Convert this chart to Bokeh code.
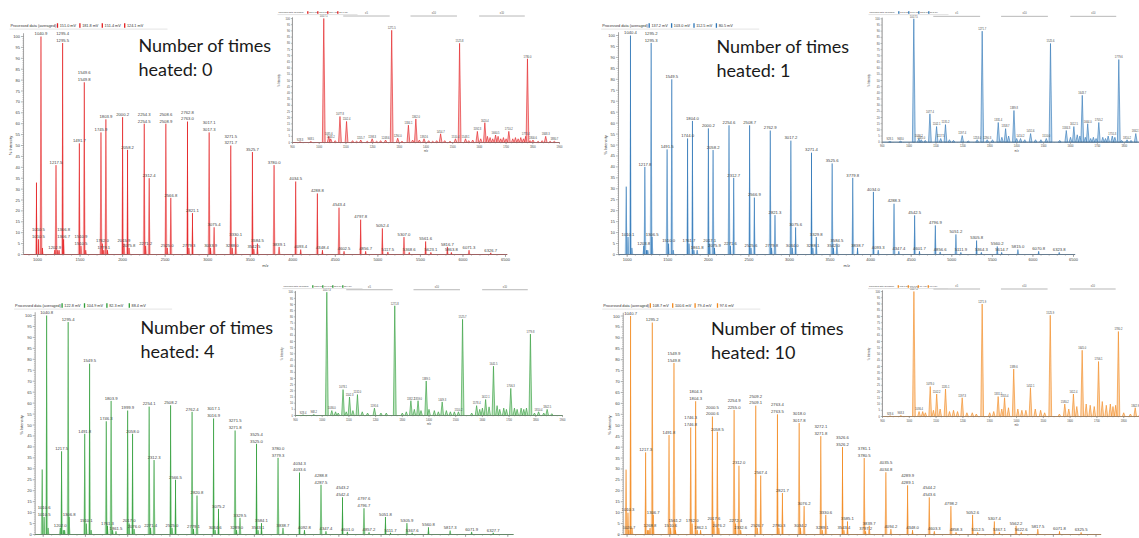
from bokeh.plotting import figure
from bokeh.models import Range1d
from bokeh.core.properties import value
from bokeh.embed import file_html
from bokeh.resources import INLINE

W, H = 1139, 538
SMALL = "Liberation Sans"
BIG = "Lato"

# ---------------- data ----------------
# main spectra: labelled peaks (m/z, % intensity)
tl_mz = [1010.5, 1040.9, 1202.9, 1217.5, 1295.4, 1306.8, 1491.7, 1510.9, 1549.6, 1745.9, 1762.0, 1779.1, 1803.9,
         2000.2, 2015.9, 2058.2, 2075.8, 2254.3, 2271.2, 2312.4, 2508.6, 2525.0, 2566.8, 2762.8, 2779.3, 2821.1,
         3017.1, 3033.9, 3075.4, 3271.5, 3288.0, 3330.1, 3525.7, 3542.5, 3584.5, 3780.0, 3839.1, 4034.5, 4093.4,
         4288.8, 4348.4, 4543.4, 4602.5, 4797.8, 4856.7, 5052.4, 5117.5, 5307.0, 5368.6, 5561.6, 5623.1, 5816.7,
         5863.8, 6071.3, 6326.7]
tl_h = [7, 100, 2, 41, 97, 7, 51, 4, 79, 56, 5, 2, 62, 63, 5, 48, 3, 60, 4, 35, 60, 3, 26, 61, 3, 19, 56, 3, 12.5,
        50, 3, 8, 47, 2.5, 5, 41, 3.5, 33.5, 2.3, 28, 2, 21.5, 1.5, 16, 1.5, 12, 1.2, 8, 1, 6, 1, 3.5, 1, 2, 0.8]
tl_dup_of = [1010.5, 1295.4, 1306.8, 1510.9, 1549.6, 2254.3, 2508.6, 2762.8, 3017.1, 3271.5]
tl_dup = [1010.5, 1295.5, 1306.7, 1510.5, 1549.8, 2254.5, 2508.9, 2763.0, 3017.3, 3271.7]
tl_nl_mz = [988.0, 1058.0, 1238.0, 1254.0, 1567.0, 1822.0]
tl_nl_h = [33, 3, 2, 2, 2, 2]

tr_mz = [1010.1, 1040.4, 1203.8, 1217.8, 1295.2, 1306.5, 1491.5, 1510.0, 1549.5, 1744.0, 1761.7, 1804.0, 1861.8,
         2000.2, 2017.1, 2058.2, 2075.9, 2254.6, 2271.6, 2312.7, 2508.7, 2525.6, 2566.9, 2762.9, 2779.8, 2821.3,
         3017.2, 3034.0, 3075.6, 3271.4, 3288.1, 3329.8, 3525.6, 3542.0, 3584.5, 3779.8, 3838.7, 4034.0, 4093.3,
         4288.3, 4347.4, 4542.5, 4601.7, 4796.9, 4856.6, 5051.2, 5111.9, 5305.8, 5364.3, 5560.2, 5614.7, 5815.0,
         6070.8, 6323.8]
tr_h = [8, 100, 4, 40, 96.6, 8, 48, 5, 80, 53, 5, 61, 2, 57.6, 5, 47.7, 3, 59, 4, 35, 59, 3, 26, 56.6, 3, 18, 52,
        3, 12.4, 46.5, 3, 8, 41.6, 3, 5, 35, 3, 28.6, 2, 23.2, 1.5, 17.9, 1.5, 13.3, 1.2, 9.2, 1, 6.4, 1, 3.7, 1,
        2.3, 1.5, 1]
tr_dup_of = [1295.2]
tr_dup = [1295.3]
tr_nl_mz = [988.0, 1058.0, 1238.0, 1254.0, 1567.0, 1822.0]
tr_nl_h = [31, 3, 2, 2, 2, 2]

bl_mz = [1010.6, 1040.8, 1202.0, 1217.5, 1295.4, 1306.8, 1491.8, 1510.1, 1549.5, 1746.3, 1761.3, 1803.9, 1861.5,
         1999.9, 2017.0, 2058.0, 2076.0, 2254.1, 2271.4, 2312.3, 2508.2, 2525.0, 2566.5, 2762.4, 2779.1, 2820.8,
         3017.1, 3034.6, 3075.2, 3271.5, 3289.0, 3329.5, 3525.4, 3543.1, 3584.1, 3780.0, 3838.7, 4034.3, 4092.8,
         4288.8, 4347.4, 4543.2, 4601.0, 4797.6, 4857.2, 5051.8, 5111.7, 5305.9, 5367.6, 5560.8, 5817.3, 6071.9,
         6327.7]
bl_h = [8, 100, 3, 38, 97, 8, 46, 5, 78, 51.7, 4, 61, 1.5, 56.6, 5, 46, 2.5, 58.4, 3, 34, 59, 3, 25, 56, 2.5,
        17.8, 53, 2, 11.7, 47.5, 2, 7.6, 41.4, 2, 5.2, 35, 3, 28.3, 2, 22.7, 1.5, 17, 1.2, 12, 1, 8, 0.8, 5.2, 0.8,
        3.3, 1.8, 1.2, 0.8]
bl_dup_of = [1010.6, 3017.1, 3271.5, 3525.4, 3780.0, 4034.3, 4288.8, 4543.2, 4797.6]
bl_dup = [1010.5, 3016.9, 3271.8, 3525.0, 3779.3, 4033.6, 4287.5, 4542.4, 4796.7]
bl_nl_mz = [988.0, 1058.0, 1238.0, 1254.0, 1567.0, 1822.0]
bl_nl_h = [29.7, 3, 2, 2, 2, 2]

br_mz = [1010.3, 1020.7, 1040.7, 1217.3, 1268.8, 1295.2, 1306.7, 1491.8, 1510.6, 1549.9, 1561.2, 1746.3, 1762.0,
         1804.3, 1862.1, 2000.5, 2017.6, 2058.5, 2076.2, 2254.9, 2272.4, 2312.0, 2332.6, 2509.2, 2526.7, 2567.4,
         2763.4, 2780.3, 2821.7, 3018.0, 3034.2, 3076.2, 3272.1, 3289.1, 3330.6, 3526.6, 3543.4, 3585.1, 3781.1,
         3797.2, 3839.7, 4035.5, 4094.2, 4289.9, 4348.0, 4544.2, 4603.3, 4798.2, 4858.3, 5052.6, 5112.5, 5307.4,
         5367.1, 5562.2, 5622.6, 5817.5, 6071.8, 6325.5]
br_h = [10, 2, 100, 37.6, 3, 97, 9, 45.5, 3, 78.5, 5, 49, 5, 61, 2, 54, 6, 47, 3, 57, 5, 31.5, 2, 59, 3, 27, 55, 3,
        19, 51, 3, 13, 45, 2, 9, 40, 2, 6, 35, 1.5, 4, 28.5, 2.5, 22.5, 2, 17, 1.5, 13, 1, 9, 1, 6, 1, 4, 1, 2.5,
        1.5, 1]
br_dup_of = [1549.9, 1746.3, 1804.3, 2000.5, 2254.9, 2509.2, 2763.4, 3018.0, 3272.1, 3526.6, 3781.1, 4035.5,
             4289.9, 4544.2]
br_dup = [1549.8, 1746.8, 1804.3, 2000.6, 2255.0, 2509.1, 2763.5, 3017.8, 3271.8, 3526.2, 3780.5, 4034.8,
          4289.1, 4543.6]
br_nl_mz = [988.0, 1058.0, 1238.0, 1254.0, 1567.0, 1822.0]
br_nl_h = [29.7, 3, 2, 2, 2, 2]

# insets: labelled peaks and unlabelled noise
tl_in_mz = [928.3, 968.5, 1017.1, 1035.6, 1043.2, 1077.8, 1102.4, 1155.7, 1198.3, 1248.6, 1271.5, 1294.0, 1334.1,
            1362.0, 1392.6, 1454.7, 1510.4, 1525.8, 1548.1, 1592.3, 1620.4, 1660.5, 1710.2, 1773.4, 1780.0, 1800.6,
            1848.3, 1880.7]
tl_in_h = [0.5, 0.8, 100, 5, 3, 21, 17, 2, 3, 2, 90.5, 3.5, 14, 19, 3, 7, 3, 80, 3, 9, 16, 6, 9, 5, 67.5, 2, 5, 1]
tl_in_nz = [1060, 1125, 1140, 1180, 1215, 1230, 1310, 1350, 1375, 1410, 1425, 1440, 1470, 1490, 1560, 1575, 1605,
            1630, 1640, 1650, 1670, 1680, 1690, 1700, 1725, 1735, 1745, 1755, 1765, 1790, 1820, 1835, 1865]
tl_in_nh = [1.5, 1.5, 1, 1, 1, 1.5, 1, 2, 2, 1.5, 1, 1.5, 1.5, 1, 1.5, 2, 3, 5, 4, 3, 5, 3, 4, 3, 3, 4, 3, 4, 3,
            1.5, 1, 1.5, 1]

tr_in_mz = [928.5, 968.0, 1017.5, 1036.2, 1045.0, 1077.4, 1102.1, 1117.5, 1135.2, 1197.4, 1253.0, 1271.7, 1290.3,
            1331.4, 1358.7, 1389.8, 1414.2, 1451.6, 1510.0, 1525.6, 1584.3, 1612.5, 1643.7, 1664.0, 1705.2, 1755.3,
            1779.6, 1810.2, 1842.7]
tr_in_h = [0.5, 0.8, 100, 3, 2, 23, 12.7, 3, 14.3, 5.4, 2, 90, 2, 16, 11, 25.7, 3, 7, 3, 80, 9.5, 12.7, 38, 15, 16,
           5, 67, 2, 7]
tr_in_nz = [1060, 1150, 1165, 1220, 1310, 1345, 1370, 1400, 1430, 1470, 1490, 1560, 1600, 1625, 1635, 1655, 1675,
            1685, 1695, 1720, 1730, 1740, 1765, 1790, 1825, 1860]
tr_in_nh = [1.5, 2, 1.5, 1, 2, 4, 5, 3, 2, 2, 2, 1.5, 4, 6, 5, 4, 3, 4, 3, 4, 3, 5, 4, 1.5, 1.5, 1]

bl_in_mz = [928.4, 968.2, 1017.3, 1036.0, 1078.1, 1102.3, 1132.0, 1195.6, 1271.8, 1332.2, 1359.0, 1389.5, 1449.3,
            1510.2, 1525.7, 1578.4, 1612.1, 1641.5, 1706.3, 1779.8, 1810.4, 1842.5]
bl_in_h = [0.5, 0.8, 100, 4, 21, 15, 17, 6, 89, 12, 12, 28, 11, 3, 78, 8, 13, 40, 22, 66, 3, 5]
bl_in_nz = [1050, 1060, 1090, 1115, 1150, 1170, 1220, 1240, 1300, 1315, 1345, 1370, 1400, 1420, 1435, 1465, 1480,
            1495, 1560, 1590, 1600, 1625, 1655, 1665, 1680, 1690, 1720, 1730, 1745, 1755, 1765, 1795, 1830, 1860]
bl_in_nh = [3, 2, 3, 4, 3, 2, 2, 2, 2, 3, 5, 4, 5, 4, 3, 4, 3, 3, 2, 5, 6, 7, 8, 5, 6, 5, 6, 5, 6, 5, 6, 2, 2, 1.5]

br_in_mz = [928.6, 968.3, 1017.2, 1036.4, 1078.0, 1102.2, 1135.1, 1197.3, 1271.9, 1331.5, 1355.4, 1389.6, 1452.1,
            1525.9, 1580.2, 1612.4, 1645.0, 1706.1, 1780.2, 1842.9]
br_in_h = [0.5, 0.8, 100, 4, 24, 18, 22, 15, 90, 16, 15, 38, 23, 81, 10, 18, 53, 44, 68, 7]
br_in_nz = [1050, 1060, 1090, 1115, 1150, 1165, 1180, 1215, 1235, 1250, 1300, 1315, 1345, 1370, 1405, 1420, 1435,
            1470, 1490, 1505, 1560, 1595, 1625, 1660, 1675, 1690, 1720, 1735, 1750, 1760, 1770, 1800, 1825, 1860]
br_in_nh = [4, 3, 5, 6, 4, 5, 4, 3, 3, 2, 3, 4, 6, 7, 6, 5, 5, 6, 5, 3, 2, 6, 8, 10, 9, 8, 12, 9, 10, 8, 9, 3, 2,
            1.5]

inset_br_start = [1090, 1342, 1599]
inset_br_end = [1264, 1516, 1770]
inset_br_text = ["x5", "x10", "x10"]

main_xticks = [1000, 1500, 2000, 2500, 3000, 3500, 4000, 4500, 5000, 5500, 6000, 6500]
inset_xticks = [900, 1000, 1100, 1200, 1300, 1400, 1500, 1600, 1700, 1800, 1900]
yticks = list(range(0, 101, 5))

tl_mv = ["151.0 mV", "181.8 mV", "151.4 mV", "124.1 mV"]
tr_mv = ["137.2 mV", "103.0 mV", "112.5 mV", "80.5 mV"]
bl_mv = ["122.8 mV", "104.9 mV", "82.3 mV", "88.4 mV"]
br_mv = ["108.7 mV", "100.6 mV", "79.4 mV", "97.6 mV"]
heated = ["0", "1", "4", "10"]

# ---------------- figure ----------------
p = figure(width=W, height=H, x_range=Range1d(0, W), y_range=Range1d(0, H),
           output_backend="svg", toolbar_location=None,
           x_axis_type=None, y_axis_type=None, min_border=0)
p.outline_line_color = None
p.background_fill_color = "white"
p.border_fill_color = "white"

xr, yr, geo = {}, {}, {}


def setup(nm, xa, pxa, xb, pxb, py0, py100):
    dx = (xb - xa) / (pxb - pxa)
    xs = xa - pxa * dx
    ga, gb = H - py0, H - py100
    dy = 100.0 / (gb - ga)
    ys = -ga * dy
    xr[nm] = Range1d(xs, xs + W * dx)
    yr[nm] = Range1d(ys, ys + H * dy)
    geo[nm] = (dx, dy)


setup("tl", 1000, 37, 6500, 505, 254, 36)
setup("tr", 1000, 626.7, 6500, 1073, 254, 35)
setup("bl", 1000, 42.7, 6500, 507.3, 534, 315)
setup("br", 1000, 626.6, 6500, 1095.5, 534, 315.5)
setup("tli", 900, 292, 1900, 559, 142, 18)
setup("tri", 900, 881.7, 1900, 1150.7, 141.7, 18.3)
setup("bli", 900, 295, 1900, 562, 415, 291.7)
setup("bri", 900, 882, 1900, 1150, 416, 291)
p.extra_x_ranges = xr
p.extra_y_ranges = yr


def ptext(ix, iy, txt, size, color="#333333", align="left", baseline="middle", font=SMALL, angle=0.0):
    p.text(x=[ix], y=[H - iy], text=[txt], text_font=value(font), text_font_size=size,
           text_color=color, text_align=align, text_baseline=baseline, angle=angle)


def axes(nm, xmin, xmax, ytop, xticks, xminor, fs, tl, lab_fs):
    dx, dy = geo[nm]
    kw = dict(x_range_name=nm, y_range_name=nm)
    col = "#808080"
    p.segment(x0=[xmin, xmin], y0=[0, 0], x1=[xmax, xmin], y1=[0, ytop], line_color=col, line_width=0.7, **kw)
    n = len(xticks)
    p.segment(x0=xticks, y0=[0] * n, x1=xticks, y1=[-tl * dy] * n, line_color=col, line_width=0.6, **kw)
    m = len(xminor)
    p.segment(x0=xminor, y0=[0] * m, x1=xminor, y1=[-0.5 * tl * dy] * m, line_color=col, line_width=0.5, **kw)
    p.text(x=xticks, y=[-(tl + 0.8) * dy] * n, text=[str(t) for t in xticks], text_font=value(SMALL),
           text_font_size=fs, text_color="#444444", text_align="center", text_baseline="top", **kw)
    k = len(yticks)
    p.segment(x0=[xmin - tl * dx] * k, y0=yticks, x1=[xmin] * k, y1=yticks, line_color=col, line_width=0.6, **kw)
    ymin = [v for v in range(0, 101) if v % 5]
    p.segment(x0=[xmin - 0.5 * tl * dx] * len(ymin), y0=ymin, x1=[xmin] * len(ymin), y1=ymin,
              line_color=col, line_width=0.4, **kw)
    p.text(x=[xmin - (tl + 1) * dx] * k, y=yticks, text=[str(t) for t in yticks], text_font=value(SMALL),
           text_font_size=fs, text_color="#444444", text_align="right", text_baseline="middle", **kw)
    p.text(x=[(xmin + xmax) / 2], y=[-(tl + 6) * dy], text=["m/z"], text_font=value(SMALL),
           text_font_size=lab_fs, text_color="#444444", text_align="center", text_baseline="top", **kw)
    p.text(x=[xmin - (tl + 11) * dx], y=[50], text=["% Intensity"], text_font=value(SMALL),
           text_font_size=lab_fs, text_color="#444444", text_align="center", text_baseline="middle",
           angle=1.5708, **kw)


def spectrum(nm, mz, h, nmz, nh, hw, line, fill, outline):
    kw = dict(x_range_name=nm, y_range_name=nm)
    am = list(mz) + list(nmz)
    ah = list(h) + list(nh)
    p.patches(xs=[[c - hw, c, c + hw] for c in am], ys=[[0, v, 0] for v in ah], fill_color=fill,
              fill_alpha=0.75, line_color=line if outline else None, line_width=0.6, **kw)
    if not outline:
        p.segment(x0=am, y0=[0] * len(am), x1=am, y1=ah, line_color=line, line_width=0.9, **kw)


def peak_labels(nm, mz, h, dup_of, dup, fs, g1, g2):
    dx, dy = geo[nm]
    kw = dict(x_range_name=nm, y_range_name=nm)
    ly = [v + (g2 if c in dup_of else g1) * dy for c, v in zip(mz, h)]
    p.text(x=mz, y=ly, text=[f"{c:.1f}" for c in mz], text_font=value(SMALL), text_font_size=fs,
           text_color="#444444", text_align="center", text_baseline="bottom", **kw)
    if dup_of:
        dh = [h[mz.index(c)] for c in dup_of]
        p.text(x=dup_of, y=[v + g1 * dy for v in dh], text=[f"{d:.1f}" for d in dup], text_font=value(SMALL),
               text_font_size=fs, text_color="#444444", text_align="center", text_baseline="bottom", **kw)


def header(ix, iy, mvs, color, fs, step, first, bar_h, line_len):
    ptext(ix, iy, "Processed data (averaged)", fs, color="#333333")
    p.segment(x0=[ix - 1], y0=[H - iy - bar_h * 0.8], x1=[ix - 1 + line_len], y1=[H - iy - bar_h * 0.8],
              line_color="#d0d0d0", line_width=0.6)
    for i, mv in enumerate(mvs):
        bx = ix + first + i * step
        p.segment(x0=[bx], y0=[H - iy - bar_h / 2], x1=[bx], y1=[H - iy + bar_h / 2],
                  line_color=color, line_width=1.3)
        ptext(bx + bar_h * 0.5, iy, mv, fs, color="#333333")


def brackets(nm, fs):
    dx, dy = geo[nm]
    kw = dict(x_range_name=nm, y_range_name=nm)
    nb = len(inset_br_start)
    p.segment(x0=inset_br_start, y0=[102] * nb, x1=inset_br_end, y1=[102] * nb, line_color="#9a9a9a",
              line_width=0.7, **kw)
    p.text(x=[(a + b) / 2 for a, b in zip(inset_br_start, inset_br_end)], y=[102 + 1.2 * dy] * nb,
           text=inset_br_text, text_font=value(SMALL), text_font_size=fs, text_color="#555555",
           text_align="center", text_baseline="bottom", **kw)


panels = [
    dict(nm="tl", mz=tl_mz, h=tl_h, do=tl_dup_of, d=tl_dup, nmz=tl_nl_mz, nh=tl_nl_h, xmin=836, xmax=6520,
         line="#e31a1c", fill="#f6a3a3", mv=tl_mv, hx=10, hy=25, tx=138, ty=44,
         inm="tli", imz=tl_in_mz, ih=tl_in_h, inz=tl_in_nz, inh=tl_in_nh, bg=(274, 568, 5, 152), ihx=278, ihy=12),
    dict(nm="tr", mz=tr_mz, h=tr_h, do=tr_dup_of, d=tr_dup, nmz=tr_nl_mz, nh=tr_nl_h, xmin=893, xmax=6520,
         line="#2b74b6", fill="#a7c9e7", mv=tr_mv, hx=601.7, hy=25, tx=716, ty=45,
         inm="tri", imz=tr_in_mz, ih=tr_in_h, inz=tr_in_nz, inh=tr_in_nh, bg=(862, 1139, 5, 152), ihx=869, ihy=12),
    dict(nm="bl", mz=bl_mz, h=bl_h, do=bl_dup_of, d=bl_dup, nmz=bl_nl_mz, nh=bl_nl_h, xmin=905, xmax=6567,
         line="#2b9b36", fill="#a5d9a8", mv=bl_mv, hx=14.6, hy=305, tx=140, ty=326,
         inm="bli", imz=bl_in_mz, ih=bl_in_h, inz=bl_in_nz, inh=bl_in_nh, bg=(278, 568, 281, 426), ihx=283, ihy=286),
    dict(nm="br", mz=br_mz, h=br_h, do=br_dup_of, d=br_dup, nmz=br_nl_mz, nh=br_nl_h, xmin=955, xmax=6560,
         line="#f2871a", fill="#fac794", mv=br_mv, hx=602.8, hy=305, tx=710.5, ty=327,
         inm="bri", imz=br_in_mz, ih=br_in_h, inz=br_in_nz, inh=br_in_nh, bg=(862, 1139, 281, 426), ihx=868.5, ihy=286),
]

for i, P in enumerate(panels):
    nm = P["nm"]
    dx, dy = geo[nm]
    spectrum(nm, P["mz"], P["h"], P["nmz"], P["nh"], 1.6 * dx, P["line"], P["fill"], False)
    p.segment(x0=[P["xmin"]], y0=[0], x1=[P["xmax"]], y1=[0], line_color=P["line"], line_width=1.0,
              x_range_name=nm, y_range_name=nm)
    peak_labels(nm, P["mz"], P["h"], P["do"], P["d"], "4.2px", 1.2, 8.0)
    axes(nm, P["xmin"], P["xmax"], 101.5, main_xticks, list(range(900, 6501, 100)), "4px", 2.5, "4px")
    header(P["hx"], P["hy"], P["mv"], P["line"], "3.8px", 22.4, 47, 4.5, 158)
    ptext(P["tx"], P["ty"], "Number of times", "18px", color="#1a1a1a", baseline="alphabetic", font=BIG)
    ptext(P["tx"], P["ty"] + 24.5, "heated: " + heated[i], "18px", color="#1a1a1a", baseline="alphabetic",
          font=BIG)

    # inset
    bg = P["bg"]
    p.quad(left=[bg[0]], right=[bg[1]], top=[H - bg[2]], bottom=[H - bg[3]],
           fill_color="white", line_color=None)
    im = P["inm"]
    idx, idy = geo[im]
    spectrum(im, P["imz"], P["ih"], P["inz"], P["inh"], 1.4 * idx, P["line"], P["fill"], True)
    p.segment(x0=[900], y0=[0], x1=[1900], y1=[0], line_color=P["line"], line_width=0.9,
              x_range_name=im, y_range_name=im)
    peak_labels(im, P["imz"], P["ih"], [], [], "2.6px", 0.8, 5.0)
    axes(im, 900, 1900, 101, inset_xticks, list(range(900, 1901, 20)), "2.6px", 1.6, "2.6px")
    brackets(im, "2.6px")
    header(P["ihx"], P["ihy"], P["mv"], P["line"], "2.1px", 10, 29.3, 2.6, 80)

open("out.html", "w").write(file_html(p, INLINE))
